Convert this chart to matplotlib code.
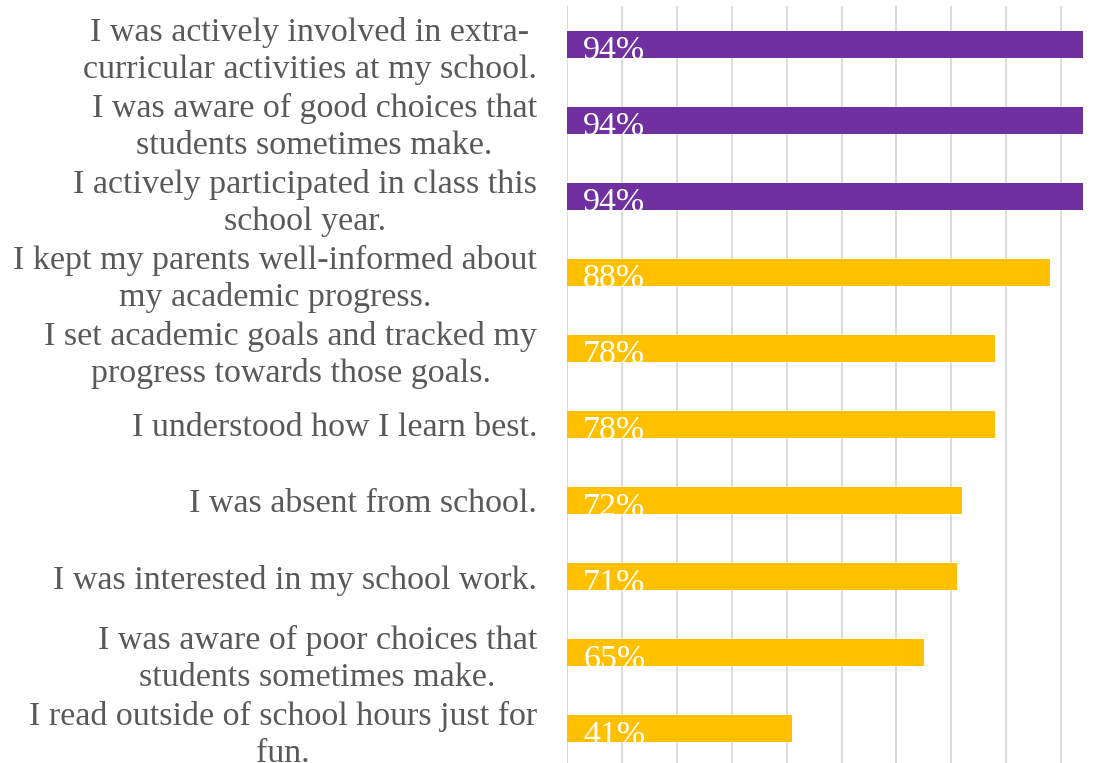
import matplotlib
matplotlib.use("Agg")
import matplotlib.pyplot as plt
import matplotlib.transforms as mtransforms

labels = [
    "I was actively involved in extra-\ncurricular activities at my school.",
    "I was aware of good choices that\nstudents sometimes make.",
    "I actively participated in class this\nschool year.",
    "I kept my parents well-informed about\nmy academic progress.",
    "I set academic goals and tracked my\nprogress towards those goals.",
    "I understood how I learn best.",
    "I was absent from school.",
    "I was interested in my school work.",
    "I was aware of poor choices that\nstudents sometimes make.",
    "I read outside of school hours just for\nfun.",
]
values = [0.94, 0.94, 0.94, 0.88, 0.78, 0.78, 0.72, 0.71, 0.65, 0.41]
top_group = [True, True, True, False, False, False, False, False, False, False]

purple = "#7030a0"
gold = "#ffc000"
text_grey = "#595959"

plt.rcParams["font.family"] = ["Liberation Serif", "DejaVu Serif"]

fig = plt.figure(figsize=(11.07, 7.63), dpi=100)
ax = fig.add_axes([0.5122, -0.0046, 0.4878, 0.9961])

pos = list(range(len(values)))
colors = [purple if t else gold for t in top_group]
bars = ax.barh(pos, values, height=0.355, color=colors, zorder=2)

ax.set_xticks([i / 10 for i in range(11)])
ax.set_xlim(0, 0.9836)
ax.set_ylim(len(values) - 0.5, -0.5)
ax.xaxis.grid(True, color="#d9d9d9", linewidth=1.3, zorder=0)
ax.set_axisbelow(True)
ax.tick_params(axis="x", length=0, labelbottom=False)
ax.tick_params(axis="y", length=0, pad=21.6, labelsize=24.5, labelcolor=text_grey)
ax.set_yticks(pos)
ax.set_yticklabels(labels, ha="right", multialignment="center", linespacing=1.25)
for s in ax.spines.values():
    s.set_visible(False)

# value labels sit low in each bar and get cut off at its lower edge
shift = mtransforms.ScaledTranslation(16 / 100, -15 / 100, fig.dpi_scale_trans)
for bar, v, y in zip(bars, values, pos):
    t = ax.text(0, y, f"{v:.0%}", color="white", fontsize=24.5,
                va="baseline", ha="left", transform=ax.transData + shift, zorder=3)
    t.set_clip_path(bar)

fig.savefig("out.png", dpi=100)
